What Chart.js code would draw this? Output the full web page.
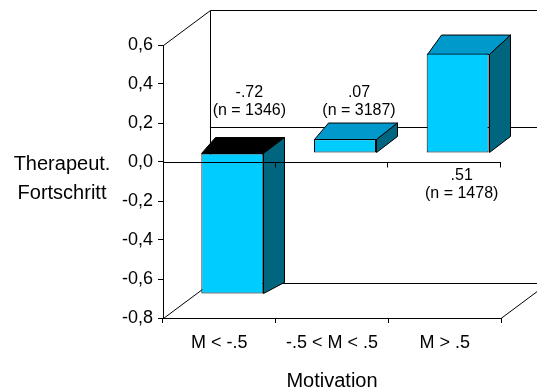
<!DOCTYPE html>
<html>
<head>
<meta charset="utf-8">
<script src="https://cdn.jsdelivr.net/npm/chart.js@4.4.1/dist/chart.umd.min.js"></script>
<style>
  html, body { margin: 0; padding: 0; background: #fff; }
  #wrap { width: 537px; height: 391px; }
</style>
</head>
<body>
<div id="wrap"><canvas id="chart"></canvas></div>
<script>
var kategorien = ['M < -.5', '-.5 < M < .5', 'M > .5'];
var fortschritt = [-0.72, 0.07, 0.51];
var stichprobe = [1346, 3187, 1478];
var yTicks = [-0.8, -0.6, -0.4, -0.2, 0, 0.2, 0.4, 0.6];

var FONT = "'Liberation Sans', Arial, sans-serif";
Chart.defaults.font.family = FONT;
Chart.defaults.color = '#000';

function kurz(v) {
    return v.toFixed(2).replace('0.', '.');
}

// 3D-Optik: Wände, Boden, Ober- und Seitenflächen der Säulen
var raum = {
    id: 'raum',
    beforeDatasetsDraw: function(chart, args, opts) {
        var ctx = chart.ctx, a = chart.chartArea, y = chart.scales.y;
        var W = chart.width;
        var tx = opts.wand[0], ty = opts.wand[1];
        var nullY = Math.round(y.getPixelForValue(0)) + 0.5;
        var L = a.left + 0.5, T = Math.round(a.top) + 0.5, B = Math.round(a.bottom) + 0.5, R = a.right;

        ctx.save();
        ctx.strokeStyle = '#000';
        ctx.lineWidth = 1;
        ctx.beginPath();
        ctx.moveTo(L, T); ctx.lineTo(L + tx, T + ty); ctx.lineTo(W + 5, T + ty);
        ctx.moveTo(L + tx, T + ty); ctx.lineTo(L + tx, B + ty); ctx.lineTo(W + 5, B + ty);
        ctx.moveTo(L, B); ctx.lineTo(L + tx, B + ty);
        ctx.moveTo(L + tx, nullY + ty); ctx.lineTo(W + 5, nullY + ty);
        ctx.moveTo(R, B); ctx.lineTo(R + tx, B + ty);
        ctx.stroke();

        var meta = chart.getDatasetMeta(0);
        var sx = opts.versatz[0], sy = opts.versatz[1];
        meta.data.forEach(function(el, i) {
            var p = el.getProps(['x', 'y', 'base', 'width'], true);
            var l = Math.round(p.x - p.width / 2 + sx) + 0.5;
            var r = Math.round(p.x + p.width / 2 + sx) + 0.5;
            var t = Math.round(Math.min(p.y, p.base) + sy) + 0.5;
            var b = Math.round(Math.max(p.y, p.base) + sy) + 0.5;
            var dyT = opts.tiefe + (t - 153) * 0.035;
            var dyB = opts.tiefe + (b - 153) * 0.035;
            // Oberseite
            ctx.beginPath();
            ctx.moveTo(l, t); ctx.lineTo(r, t);
            ctx.lineTo(r + opts.dxRechts, t + dyT); ctx.lineTo(l + opts.dxLinks, t + dyT);
            ctx.closePath();
            ctx.fillStyle = opts.oben[i];
            ctx.fill(); ctx.stroke();
            // Seite
            ctx.beginPath();
            ctx.moveTo(r, t); ctx.lineTo(r + opts.dxRechts, t + dyT);
            ctx.lineTo(r + opts.dxRechts, b + dyB); ctx.lineTo(r, b);
            ctx.closePath();
            ctx.fillStyle = opts.seite;
            ctx.fill(); ctx.stroke();
        });
        ctx.restore();

        ctx.save();
        ctx.translate(sx, sy);
    },
    afterDatasetsDraw: function(chart, args, opts) {
        var ctx = chart.ctx, a = chart.chartArea, x = chart.scales.x, y = chart.scales.y;
        ctx.restore();

        // Nulllinie vorne mit Teilstrichen
        var nullY = Math.round(y.getPixelForValue(0)) + 0.5;
        var n = kategorien.length;
        ctx.save();
        ctx.strokeStyle = '#000';
        ctx.lineWidth = 1;
        ctx.beginPath();
        ctx.moveTo(a.left, nullY); ctx.lineTo(a.right, nullY);
        for (var k = 1; k <= n; k++) {
            var gx = Math.round(a.left + k * (a.right - a.left) / n) - 0.5;
            ctx.moveTo(gx, nullY); ctx.lineTo(gx, nullY + 5);
        }
        ctx.stroke();

        // Werte und Stichprobengrößen
        ctx.fillStyle = '#000';
        ctx.font = '16px ' + FONT;
        ctx.textAlign = 'center';
        ctx.textBaseline = 'middle';
        fortschritt.forEach(function(v, i) {
            var cx = x.getPixelForValue(i) + opts.labelDx[i];
            var cy = y.getPixelForValue(opts.labelWert[i]);
            ctx.fillText(kurz(v), cx, cy);
            ctx.fillText('(n = ' + stichprobe[i] + ')', cx, cy + 18);
        });

        // Achsentitel links, waagerecht
        ctx.font = '20px ' + FONT;
        ctx.fillText('Therapeut.', 62, 164);
        ctx.fillText('Fortschritt', 62, 193);
        ctx.restore();
    }
};

var ctx = document.getElementById('chart').getContext('2d');
var chart = new Chart(ctx, {
    type: 'bar',
    data: {
        labels: kategorien,
        datasets: [{
            label: 'Therapeut. Fortschritt',
            data: fortschritt,
            backgroundColor: '#00CCFF',
            borderColor: '#000',
            borderWidth: 1,
            borderSkipped: false,
            categoryPercentage: 1,
            barPercentage: 0.55,
            clip: false
        }]
    },
    options: {
        responsive: true,
        maintainAspectRatio: false,
        animation: false,
        layout: { padding: { top: 45, right: 36, left: 0, bottom: 0 } },
        plugins: {
            legend: { display: false },
            tooltip: { enabled: false },
            raum: {
                wand: [47, -35],
                versatz: [13, -9],
                tiefe: -16,
                dxLinks: 14,
                dxRechts: 21,
                oben: ['#000000', '#0099CC', '#0099CC'],
                seite: '#006680',
                labelDx: [30, 27, 17],
                labelWert: [0.355, 0.355, -0.07]
            }
        },
        scales: {
            x: {
                afterFit: function(s) { s.height = 73; },
                grid: { display: true, drawOnChartArea: false, tickLength: 5, color: '#000', offset: true },
                border: { display: true, color: '#000', width: 1 },
                ticks: { font: { size: 18 }, padding: 9, maxRotation: 0 },
                title: { display: true, text: 'Motivation', font: { size: 20, lineHeight: 1 }, padding: { top: 0, bottom: 0 } }
            },
            y: {
                min: -0.8,
                max: 0.6,
                afterFit: function(s) { s.width = 163; },
                afterBuildTicks: function(s) { s.ticks = yTicks.map(function(v) { return { value: v }; }); },
                grid: { display: true, drawOnChartArea: false, tickLength: 5, color: '#000' },
                border: { display: true, color: '#000', width: 1 },
                ticks: {
                    font: { size: 18 },
                    padding: 5,
                    callback: function(v) {
                        if (Math.abs(v) < 1e-9) v = 0;
                        return v.toFixed(1).replace('.', ',');
                    }
                }
            }
        }
    },
    plugins: [raum]
});
</script>
</body>
</html>
